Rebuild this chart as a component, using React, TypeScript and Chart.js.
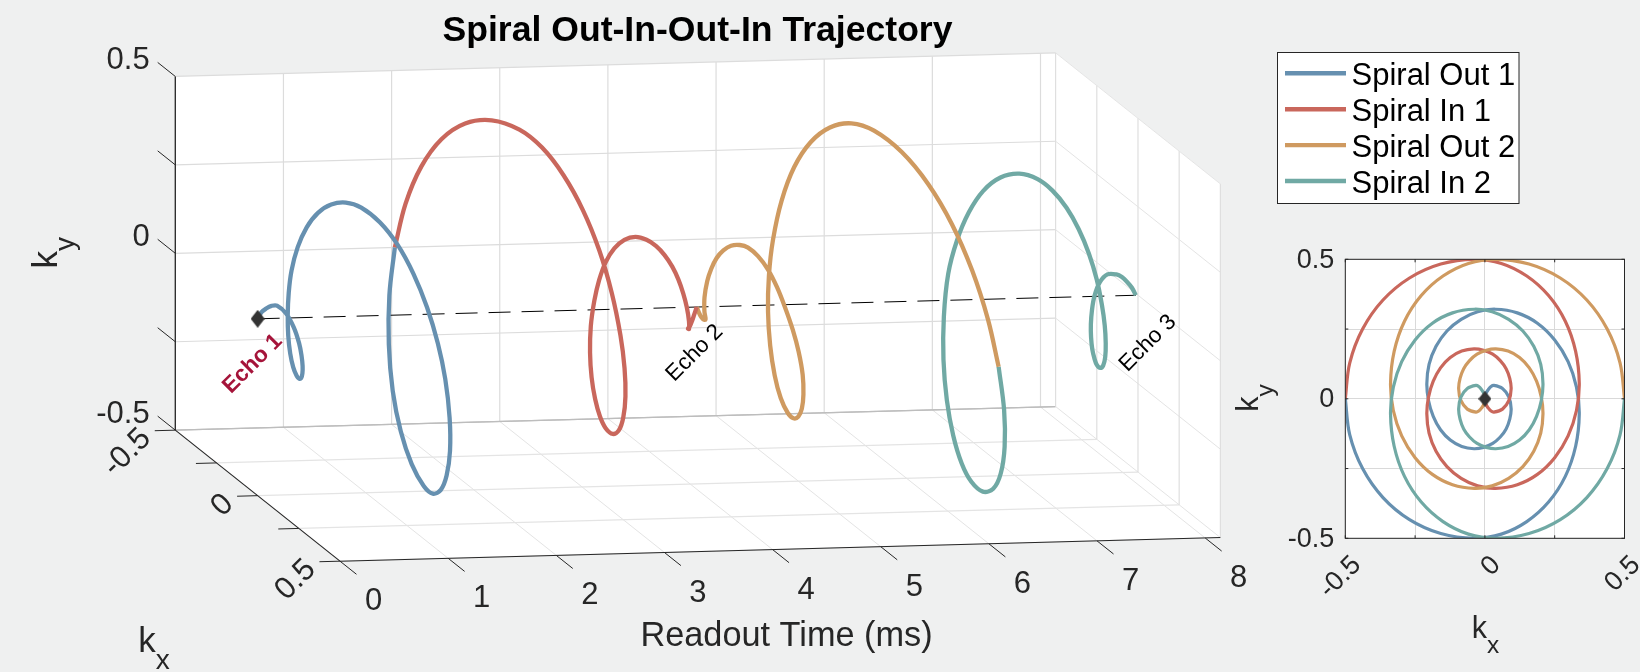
import React, { useEffect, useRef } from "react";
import { Chart, registerables } from "chart.js";

Chart.register(...registerables);

const blueT = [0, 0.03, 0.06, 0.095, 0.13, 0.167, 0.203, 0.24, 0.27, 0.3, 0.33, 0.36, 0.39, 0.42, 0.455, 0.49, 0.525, 0.56, 0.595, 0.63, 0.675, 0.72, 0.765, 0.81, 0.855, 0.9, 0.953, 1.007, 1.06, 1.113, 1.167, 1.22, 1.28, 1.34, 1.4, 1.465, 1.53, 1.595, 1.665, 1.735, 1.805, 1.88, 1.955, 2.03];
const blueKx = [0, 0.004, 0.012, 0.022, 0.032, 0.063, 0.086, 0.094, 0.089, 0.076, 0.055, 0.028, -0.005, -0.039, -0.083, -0.124, -0.159, -0.185, -0.202, -0.208, -0.2, -0.175, -0.136, -0.085, -0.026, 0.038, 0.116, 0.188, 0.25, 0.298, 0.328, 0.338, 0.325, 0.288, 0.228, 0.15, 0.059, -0.039, -0.158, -0.27, -0.365, -0.438, -0.484, -0.5];
const blueKy = [0, 0.02, 0.033, 0.044, 0.048, 0.037, 0.006, -0.036, -0.073, -0.108, -0.137, -0.16, -0.174, -0.179, -0.171, -0.148, -0.111, -0.063, -0.006, 0.054, 0.123, 0.188, 0.243, 0.285, 0.312, 0.321, 0.308, 0.271, 0.211, 0.133, 0.042, -0.055, -0.17, -0.278, -0.37, -0.44, -0.485, -0.5, -0.483, -0.433, -0.354, -0.25, -0.129, 0];

const redT = [2.03, 2.105, 2.18, 2.255, 2.33, 2.405, 2.48, 2.54, 2.6, 2.66, 2.72, 2.78, 2.84, 2.893, 2.947, 3.0, 3.053, 3.107, 3.16, 3.205, 3.25, 3.295, 3.34, 3.385, 3.43, 3.465, 3.5, 3.54, 3.58, 3.62, 3.655, 3.69, 3.72, 3.75, 3.775, 3.8, 3.825, 3.857, 3.893, 3.93, 3.965, 4.0, 4.03, 4.06];
const redKx = [-0.5, -0.484, -0.438, -0.365, -0.27, -0.158, -0.039, 0.059, 0.15, 0.228, 0.288, 0.325, 0.338, 0.328, 0.298, 0.25, 0.188, 0.116, 0.038, -0.026, -0.085, -0.136, -0.175, -0.2, -0.208, -0.202, -0.185, -0.159, -0.124, -0.083, -0.039, -0.005, 0.028, 0.055, 0.076, 0.089, 0.094, 0.086, 0.063, 0.032, 0.022, 0.012, 0.004, 0];
const redKy = [0, 0.129, 0.25, 0.354, 0.433, 0.483, 0.5, 0.485, 0.44, 0.37, 0.278, 0.17, 0.055, -0.042, -0.133, -0.211, -0.271, -0.308, -0.321, -0.312, -0.285, -0.243, -0.188, -0.123, -0.054, 0.006, 0.063, 0.111, 0.148, 0.171, 0.179, 0.174, 0.16, 0.137, 0.108, 0.073, 0.036, -0.006, -0.037, -0.048, -0.044, -0.033, -0.02, 0];

const orangeT = [4.06, 4.09, 4.12, 4.155, 4.19, 4.227, 4.263, 4.3, 4.33, 4.36, 4.39, 4.42, 4.45, 4.475, 4.5, 4.53, 4.56, 4.595, 4.64, 4.685, 4.735, 4.78, 4.825, 4.87, 4.915, 4.96, 5.013, 5.067, 5.12, 5.173, 5.227, 5.28, 5.34, 5.4, 5.46, 5.52, 5.58, 5.64, 5.715, 5.79, 5.865, 5.94, 6.015, 6.09];
const orangeKx = [0, -0.004, -0.012, -0.022, -0.032, -0.063, -0.086, -0.094, -0.089, -0.076, -0.055, -0.028, 0.005, 0.039, 0.083, 0.124, 0.159, 0.185, 0.202, 0.208, 0.2, 0.175, 0.136, 0.085, 0.026, -0.038, -0.116, -0.188, -0.25, -0.298, -0.328, -0.338, -0.325, -0.288, -0.228, -0.15, -0.059, 0.039, 0.158, 0.27, 0.365, 0.438, 0.484, 0.5];
const orangeKy = [0, -0.02, -0.033, -0.044, -0.048, -0.037, -0.006, 0.036, 0.073, 0.108, 0.137, 0.16, 0.174, 0.179, 0.171, 0.148, 0.111, 0.063, 0.006, -0.054, -0.123, -0.188, -0.243, -0.285, -0.312, -0.321, -0.308, -0.271, -0.211, -0.133, -0.042, 0.055, 0.17, 0.278, 0.37, 0.44, 0.485, 0.5, 0.483, 0.433, 0.354, 0.25, 0.129, 0];

const tealT = [6.09, 6.165, 6.24, 6.315, 6.39, 6.465, 6.54, 6.6, 6.66, 6.72, 6.78, 6.84, 6.9, 6.965, 7.03, 7.09, 7.155, 7.22, 7.27, 7.31, 7.35, 7.385, 7.42, 7.455, 7.49, 7.525, 7.56, 7.595, 7.63, 7.665, 7.7, 7.73, 7.76, 7.79, 7.82, 7.85, 7.88, 7.917, 7.953, 7.99, 8.025, 8.06, 8.09, 8.12];
const tealKx = [0.5, 0.484, 0.438, 0.365, 0.27, 0.158, 0.039, -0.059, -0.15, -0.228, -0.288, -0.325, -0.338, -0.328, -0.298, -0.25, -0.188, -0.116, -0.038, 0.026, 0.085, 0.136, 0.175, 0.2, 0.208, 0.202, 0.185, 0.159, 0.124, 0.083, 0.039, 0.005, -0.028, -0.055, -0.076, -0.089, -0.094, -0.086, -0.063, -0.032, -0.022, -0.012, -0.004, 0];
const tealKy = [0, -0.129, -0.25, -0.354, -0.433, -0.483, -0.5, -0.485, -0.44, -0.37, -0.278, -0.17, -0.055, 0.042, 0.133, 0.211, 0.271, 0.308, 0.321, 0.312, 0.285, 0.243, 0.188, 0.123, 0.054, -0.006, -0.063, -0.111, -0.148, -0.171, -0.179, -0.174, -0.16, -0.137, -0.108, -0.073, -0.036, 0.006, 0.037, 0.048, 0.044, 0.033, 0.02, 0];

const seriesNames = ["Spiral Out 1", "Spiral In 1", "Spiral Out 2", "Spiral In 2"];
const echoTimes = [0, 4.06, 8.12];
const echoNames = ["Echo 1", "Echo 2", "Echo 3"];
const timeTicks = [0, 1, 2, 3, 4, 5, 6, 7, 8];
const kTicks = [-0.5, -0.25, 0, 0.25, 0.5];
const kLabels = ["-0.5", "", "0", "", "0.5"];
const timeMax = 8.14;

const colors = ["#6690b0", "#c9675c", "#cf9a60", "#70a9a4"];
const FONT = '"Liberation Sans", Arial, sans-serif';
const INK = "#262626";

// Fixed oblique view of the (time, kx, ky) box onto the plane of the hidden scales.
const project = (t: number, kx: number, ky: number) => ({
  x: t + (kx + 0.5) * 1.5229,
  y: ky + 0.0082 * t - 0.3704 * (kx + 0.5),
});

const build = (t: number[], kx: number[], ky: number[]) => t.map((v, i) => project(v, kx[i], ky[i]));
const flat = (kx: number[], ky: number[]) => kx.map((v, i) => ({ x: v, y: ky[i] }));

function diamond(w: number, h: number) {
  const c = document.createElement("canvas");
  c.width = w;
  c.height = h;
  const g = c.getContext("2d") as CanvasRenderingContext2D;
  g.fillStyle = "#333333";
  g.beginPath();
  g.moveTo(w / 2, 0);
  g.lineTo(w, h / 2);
  g.lineTo(w / 2, h);
  g.lineTo(0, h / 2);
  g.closePath();
  g.fill();
  return c;
}

function label(ctx: any, s: string, x: number, y: number, size: number, opt: any = {}) {
  ctx.save();
  ctx.translate(x, y);
  if (opt.rot) ctx.rotate((opt.rot * Math.PI) / 180);
  ctx.font = `${opt.bold ? "bold " : ""}${size}px ${FONT}`;
  ctx.fillStyle = opt.color || INK;
  ctx.textAlign = opt.align || "center";
  ctx.textBaseline = opt.base || "middle";
  ctx.fillText(s, 0, 0);
  ctx.restore();
}

function subLabel(ctx: any, a: string, b: string, x: number, y: number, size: number, rot = 0) {
  ctx.save();
  ctx.translate(x, y);
  ctx.rotate((rot * Math.PI) / 180);
  ctx.fillStyle = INK;
  ctx.textAlign = "left";
  ctx.textBaseline = "alphabetic";
  ctx.font = `${size}px ${FONT}`;
  ctx.fillText(a, 0, 0);
  const w = ctx.measureText(a).width;
  ctx.font = `${size * 0.8}px ${FONT}`;
  ctx.fillText(b, w, size * 0.48);
  ctx.restore();
}

const boxPlugin = {
  id: "box3d",
  beforeDatasetsDraw(chart: any) {
    const { ctx, scales } = chart;
    const P = (t: number, kx: number, ky: number) => {
      const p = project(t, kx, ky);
      return [scales.x.getPixelForValue(p.x), scales.y.getPixelForValue(p.y)];
    };
    const seg = (a: number[], b: number[], color: string, w = 1) => {
      ctx.beginPath();
      ctx.moveTo(a[0], a[1]);
      ctx.lineTo(b[0], b[1]);
      ctx.strokeStyle = color;
      ctx.lineWidth = w;
      ctx.stroke();
    };
    ctx.save();
    const poly = [P(0, -0.5, 0.5), P(timeMax, -0.5, 0.5), P(timeMax, 0.5, 0.5), P(timeMax, 0.5, -0.5), P(0, 0.5, -0.5), P(0, -0.5, -0.5)];
    ctx.beginPath();
    poly.forEach((p, i) => (i ? ctx.lineTo(p[0], p[1]) : ctx.moveTo(p[0], p[1])));
    ctx.closePath();
    ctx.fillStyle = "#ffffff";
    ctx.fill();

    const wall = "#dcdcdc";
    const floor = "#e4e4e4";
    timeTicks.forEach((t) => {
      seg(P(t, -0.5, -0.5), P(t, -0.5, 0.5), wall, 1.2);
      seg(P(t, -0.5, -0.5), P(t, 0.5, -0.5), floor, 1);
    });
    kTicks.forEach((k) => {
      seg(P(0, -0.5, k), P(timeMax, -0.5, k), k === -0.5 ? "#bdbdbd" : wall, 1.2);
      seg(P(0, k, -0.5), P(timeMax, k, -0.5), k === -0.5 ? "#bdbdbd" : floor, 1.2);
      seg(P(timeMax, k, -0.5), P(timeMax, k, 0.5), wall, 1.1);
      seg(P(timeMax, -0.5, k), P(timeMax, 0.5, k), floor, 1);
    });

    // axis rulers and tick marks
    seg(P(0, -0.5, -0.5), P(0, -0.5, 0.5), INK, 1.3);
    seg(P(0, -0.5, -0.5), P(0, 0.5, -0.5), INK, 1.1);
    seg(P(0, 0.5, -0.5), P(timeMax, 0.5, -0.5), INK, 1.1);
    timeTicks.forEach((t) => seg(P(t, 0.5, -0.5), P(t, 0.6, -0.5), INK, 1));
    kTicks.forEach((k) => {
      seg(P(0, k, -0.5), P(-0.19, k, -0.5), INK, 1);
      seg(P(0, -0.5, k), P(0, -0.607, k), INK, 1);
    });
    ctx.restore();
  },
  afterDatasetsDraw(chart: any) {
    const { ctx, scales } = chart;
    const P = (t: number, kx: number, ky: number) => {
      const p = project(t, kx, ky);
      return [scales.x.getPixelForValue(p.x), scales.y.getPixelForValue(p.y)];
    };
    timeTicks.forEach((t) => {
      const p = P(t, 0.5, -0.5);
      label(ctx, String(t), p[0] + 33.5, p[1] + 40.5, 31);
    });
    kTicks.forEach((k, i) => {
      if (!kLabels[i]) return;
      const p = P(-0.19, k, -0.5);
      label(ctx, kLabels[i], p[0] - 8.5, p[1] + 3, 31, { rot: -45, align: "right" });
      const q = P(0, -0.607, k);
      label(ctx, kLabels[i], q[0] - 8, q[1] - 2, 31, { align: "right" });
    });
    echoTimes.forEach((t, i) => {
      const p = P(t, 0, 0);
      const off = [[-5, 45], [-2, 46], [12, 48]][i];
      label(ctx, echoNames[i], p[0] + off[0], p[1] + off[1], 22.5, {
        rot: -45,
        bold: i === 0,
        color: i === 0 ? "#a5143a" : "#000000",
      });
    });
    label(ctx, "Spiral Out-In-Out-In Trajectory", 697.5, 31, 35.6, { bold: true, color: "#000000" });
    label(ctx, "Readout Time (ms)", 786.5, 637, 34.3);
    subLabel(ctx, "k", "x", 138.3, 651.7, 35);
    subLabel(ctx, "k", "y", 57.3, 268.5, 35, -90);

    // legend
    ctx.save();
    ctx.fillStyle = "#ffffff";
    ctx.fillRect(1277.5, 52.5, 241.5, 151);
    ctx.strokeStyle = INK;
    ctx.lineWidth = 1;
    ctx.strokeRect(1277.5, 52.5, 241.5, 151);
    seriesNames.forEach((name, i) => {
      const y = 73.3 + i * 35.9;
      ctx.beginPath();
      ctx.moveTo(1285, y);
      ctx.lineTo(1346, y);
      ctx.strokeStyle = colors[i];
      ctx.lineWidth = 4.4;
      ctx.stroke();
      label(ctx, name, 1351.5, y + 3, 31, { align: "left", color: "#000000" });
    });
    ctx.restore();
  },
};

const insetPlugin = {
  id: "insetFrame",
  afterDatasetsDraw(chart: any) {
    const { ctx, scales, chartArea: a } = chart;
    ctx.save();
    ctx.strokeStyle = INK;
    ctx.lineWidth = 1;
    ctx.strokeRect(a.left, a.top, a.right - a.left, a.bottom - a.top);
    kTicks.forEach((k) => {
      const x = scales.x.getPixelForValue(k);
      const y = scales.y.getPixelForValue(k);
      ctx.beginPath();
      ctx.moveTo(x, a.bottom);
      ctx.lineTo(x, a.bottom - 3);
      ctx.moveTo(x, a.top);
      ctx.lineTo(x, a.top + 3);
      ctx.moveTo(a.left, y);
      ctx.lineTo(a.left + 3, y);
      ctx.moveTo(a.right, y);
      ctx.lineTo(a.right - 3, y);
      ctx.stroke();
    });
    ctx.restore();
    kTicks.forEach((k, i) => {
      if (!kLabels[i]) return;
      label(ctx, kLabels[i], a.left - 11, scales.y.getPixelForValue(k) + 1, 27, { align: "right" });
      label(ctx, kLabels[i], scales.x.getPixelForValue(k) + 11.5, a.bottom + 22.5, 27, { rot: -45, align: "right" });
    });
    subLabel(ctx, "k", "x", 1471.7 - 1180, 638.3 - 230, 30.5);
    subLabel(ctx, "k", "y", 1258.3 - 1180, 411.7 - 230, 30.5, -90);
  },
};

export default function App() {
  const mainRef = useRef<HTMLCanvasElement | null>(null);
  const insetRef = useRef<HTMLCanvasElement | null>(null);

  useEffect(() => {
    document.body.style.margin = "0";
    document.body.style.background = "#eff0f0";

    const mainSeries = [build(blueT, blueKx, blueKy), build(redT, redKx, redKy), build(orangeT, orangeKx, orangeKy), build(tealT, tealKx, tealKy)];
    const main = new Chart(mainRef.current as any, {
      type: "line",
      data: {
        datasets: [
          ...mainSeries.map((d, i) => ({
            label: seriesNames[i],
            data: d,
            borderColor: colors[i],
            borderWidth: 4.3,
            tension: 0.36,
            capBezierPoints: false,
            pointRadius: 0,
            borderJoinStyle: "round",
            fill: false,
          })),
          {
            label: "Echo line",
            data: [project(echoTimes[0], 0, 0), project(echoTimes[2], 0, 0)],
            borderColor: "#000000",
            borderWidth: 1,
            borderDash: [22, 11],
            pointRadius: 0,
            order: 5,
          },
          {
            label: "Echo 1 centre",
            data: [project(echoTimes[0], 0, 0)],
            showLine: false,
            pointStyle: diamond(14, 18),
            pointRadius: 7,
            order: -1,
          },
        ],
      } as any,
      options: {
        animation: false,
        responsive: false,
        maintainAspectRatio: false,
        layout: { padding: 0, autoPadding: false },
        plugins: { legend: { display: false }, title: { display: false }, tooltip: { enabled: false } },
        scales: {
          x: { type: "linear", display: false, min: -1.6209, max: 13.5433 },
          y: { type: "linear", display: false, min: -1.1837, max: 0.7161 },
        },
      } as any,
      plugins: [boxPlugin],
    });

    const insetSeries = [flat(blueKx, blueKy), flat(redKx, redKy), flat(orangeKx, orangeKy), flat(tealKx, tealKy)];
    const grid = { color: "#d9d9d9", lineWidth: 1, drawTicks: false };
    const inset = new Chart(insetRef.current as any, {
      type: "line",
      data: {
        datasets: [
          {
            label: "Centre",
            data: [{ x: 0, y: 0 }],
            showLine: false,
            pointStyle: diamond(13, 16),
            pointRadius: 7,
            order: -1,
          },
          ...insetSeries.map((d, i) => ({
            label: seriesNames[i],
            data: d,
            borderColor: colors[i],
            borderWidth: 3.2,
            tension: 0.36,
            capBezierPoints: false,
            pointRadius: 0,
            fill: false,
            order: 3 - i,
          })),
        ],
      } as any,
      options: {
        animation: false,
        responsive: false,
        maintainAspectRatio: false,
        layout: { padding: { left: 165.3, top: 29.3, right: 15.5, bottom: 133.7 }, autoPadding: false },
        plugins: { legend: { display: false }, title: { display: false }, tooltip: { enabled: false } },
        scales: {
          x: { type: "linear", min: -0.5, max: 0.5, grid, border: { display: false }, ticks: { display: false, stepSize: 0.25 } },
          y: { type: "linear", min: -0.5, max: 0.5, grid, border: { display: false }, ticks: { display: false, stepSize: 0.25 } },
        },
      } as any,
      plugins: [
        {
          id: "insetBack",
          beforeDraw(chart: any) {
            const { ctx, chartArea: a } = chart;
            ctx.save();
            ctx.fillStyle = "#ffffff";
            ctx.fillRect(a.left, a.top, a.right - a.left, a.bottom - a.top);
            ctx.restore();
          },
        },
        insetPlugin,
      ],
    });

    return () => {
      main.destroy();
      inset.destroy();
    };
  }, []);

  return (
    <div style={{ position: "relative", width: 1640, height: 672, overflow: "hidden", background: "#eff0f0" }}>
      <canvas ref={mainRef} width={1640} height={672} style={{ position: "absolute", left: 0, top: 0, display: "block" }} />
      <canvas ref={insetRef} width={460} height={442} style={{ position: "absolute", left: 1180, top: 230, display: "block" }} />
    </div>
  );
}
